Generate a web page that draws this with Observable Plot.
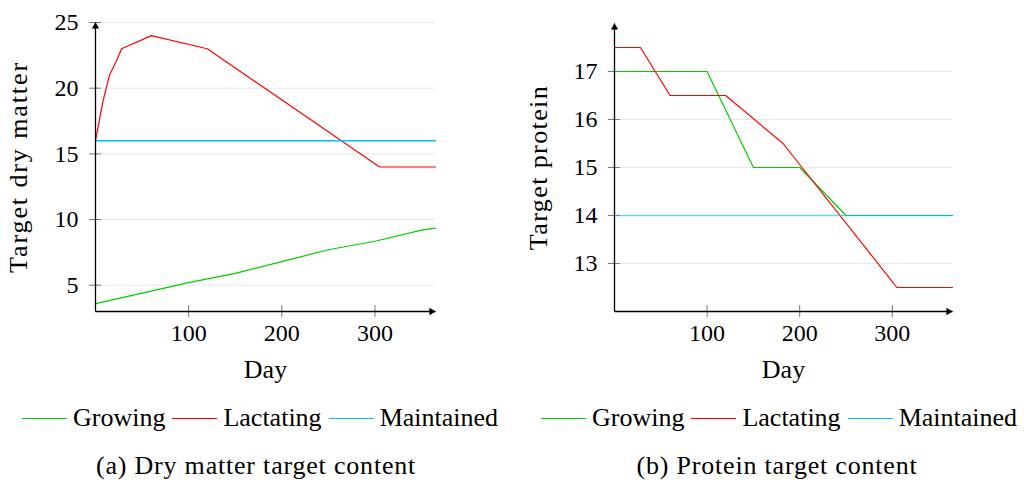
<!DOCTYPE html>
<html><head><meta charset="utf-8">
<script src="https://cdn.jsdelivr.net/npm/d3@7"></script>
<script src="https://cdn.jsdelivr.net/npm/@observablehq/plot@0.6"></script>
<style>
body{margin:0;background:#fff;color:#000;font-family:'Liberation Serif',serif;}
#wrap{position:relative;width:1024px;height:484px;overflow:hidden;}
.panel{position:absolute;top:0;}
.legend{position:absolute;top:403px;height:30px;display:flex;align-items:center;font-size:26px;white-space:nowrap;}
.legend .it{display:flex;align-items:center;margin-right:7px;}
.sw{display:inline-block;width:45px;height:0;border-top:1.2px solid;margin-right:6px;}
.caption{position:absolute;top:451px;font-size:26px;letter-spacing:0.8px;white-space:nowrap;transform:translateX(-50%);}
</style></head>
<body><div id="wrap"></div>
<script>
// ---- data ----
const seriesNames = ["Growing", "Lactating", "Maintained"];
const seriesColors = ["#00cc00", "#ff0000", "#00bfff"];
const xTicks = [100, 200, 300];
const xDomain = [0, 365];

// (a) dry matter
const dmGrowingDay = [0, 50, 100, 150, 200, 250, 300, 350, 365];
const dmGrowing    = [3.6, 4.4, 5.2, 5.9, 6.8, 7.7, 8.35, 9.2, 9.35];
const dmLactDay    = [0, 8, 15, 22, 28, 60, 120, 305, 365];
const dmLact       = [16, 19, 21, 22, 23, 24, 23, 14, 14];
const dmMaintDay   = [0, 365];
const dmMaint      = [16, 16];
const dmYDomain = [3, 25];
const dmYTicks = [5, 10, 15, 20, 25];

// (b) protein
const prGrowingDay = [0, 100, 150, 200, 250, 365];
const prGrowing    = [17, 17, 15, 15, 14, 14];
const prLactDay    = [0, 28, 60, 120, 182, 305, 365];
const prLact       = [17.5, 17.5, 16.5, 16.5, 15.5, 12.5, 12.5];
const prMaintDay   = [0, 365];
const prMaint      = [14, 14];
const prYDomain = [12, 18];
const prYTicks = [13, 14, 15, 16, 17];

const FONT = "'Liberation Serif', serif";
const zipSeries = (days, vals) => days.map((d, i) => ({day: d, v: vals[i]}));

function chart(o) {
  const [g, l, m] = o.series;
  const x0 = xDomain[0], x1 = xDomain[1], y0 = o.yDomain[0], y1 = o.yDomain[1];
  const svg = Plot.plot({
    width: 512, height: 390,
    marginTop: o.marginTop, marginBottom: 79, marginLeft: o.marginLeft, marginRight: o.marginRight,
    style: {fontFamily: FONT, fontSize: "24px", background: "white", color: "black", overflow: "visible"},
    x: {domain: xDomain},
    y: {domain: o.yDomain},
    marks: [
      Plot.gridY(o.yTicks, {stroke: "#e8e8e8", strokeOpacity: 1}),
      Plot.axisY(o.yTicks, {tickSize: 12, dx: 6, text: null, label: null, stroke: "#777"}),
      Plot.axisY(o.yTicks, {tickSize: 0, tickPadding: 17, label: o.yLabel, labelAnchor: "center", labelArrow: "none", labelOffset: o.yLabelOffset, fontSize: 24}),
      Plot.axisX(xTicks, {tickSize: 12, dy: -6, text: null, label: null, stroke: "#777"}),
      Plot.axisX(xTicks, {tickSize: 0, tickPadding: 12, label: "Day", labelAnchor: "center", labelArrow: "none", labelOffset: 66, fontSize: 24}),
      Plot.line(g, {x: "day", y: "v", stroke: seriesColors[0], strokeWidth: 1.2}),
      Plot.line(l, {x: "day", y: "v", stroke: seriesColors[1], strokeWidth: 1.2}),
      Plot.line(m, {x: "day", y: "v", stroke: seriesColors[2], strokeWidth: 1.4, strokeOpacity: o.maintOpacity}),
      Plot.link([0], {x1: x0, y1: y0, x2: x0, y2: y1, stroke: "black", strokeWidth: 1.3, insetEnd: 3}),
      Plot.link([0], {x1: x0, y1: y0, x2: x1, y2: y0, stroke: "black", strokeWidth: 1.3, insetEnd: 3}),
      Plot.dot([0], {x: x0, y: y1, symbol: "triangle", r: 2.7, fill: "black", stroke: null, dy: 4}),
      Plot.dot([0], {x: x1, y: y0, symbol: "triangle", r: 2.7, fill: "black", stroke: null, rotate: 90, dx: -4})
    ]
  });
  svg.querySelectorAll("text").forEach(t => {
    if (t.textContent === o.yLabel) { t.style.fontSize = "26px"; t.style.letterSpacing = o.yLetterSpacing + "px"; }
    if (t.textContent === "Day") { t.style.fontSize = "26px"; }
  });
  return svg;
}

const wrap = document.getElementById("wrap");
function addPanel(svg, left) {
  const d = document.createElement("div");
  d.className = "panel"; d.style.left = left + "px";
  d.appendChild(svg); wrap.appendChild(d);
}
addPanel(chart({
  series: [zipSeries(dmGrowingDay, dmGrowing), zipSeries(dmLactDay, dmLact), zipSeries(dmMaintDay, dmMaint)],
  yDomain: dmYDomain, yTicks: dmYTicks, yLabel: "Target dry matter", yLetterSpacing: 1.9,
  marginTop: 22, marginLeft: 95, marginRight: 77, yLabelOffset: 87, maintOpacity: 1
}), 0);
addPanel(chart({
  series: [zipSeries(prGrowingDay, prGrowing), zipSeries(prLactDay, prLact), zipSeries(prMaintDay, prMaint)],
  yDomain: prYDomain, yTicks: prYTicks, yLabel: "Target protein", yLetterSpacing: 1.4,
  marginTop: 23, marginLeft: 102, marginRight: 72, yLabelOffset: 86, maintOpacity: 0.55
}), 512);

function addLegend(left) {
  const lg = document.createElement("div");
  lg.className = "legend"; lg.style.left = left + "px";
  seriesNames.forEach((n, i) => {
    const it = document.createElement("span"); it.className = "it";
    const sw = document.createElement("span"); sw.className = "sw"; sw.style.borderTopColor = seriesColors[i];
    it.appendChild(sw); it.appendChild(document.createTextNode(n));
    lg.appendChild(it);
  });
  wrap.appendChild(lg);
}
addLegend(22);
addLegend(541);

const captions = [["(a) Dry matter target content", 256], ["(b) Protein target content", 777]];
captions.forEach(([t, cx]) => {
  const c = document.createElement("div");
  c.className = "caption"; c.style.left = cx + "px"; c.textContent = t;
  wrap.appendChild(c);
});
</script></body></html>
